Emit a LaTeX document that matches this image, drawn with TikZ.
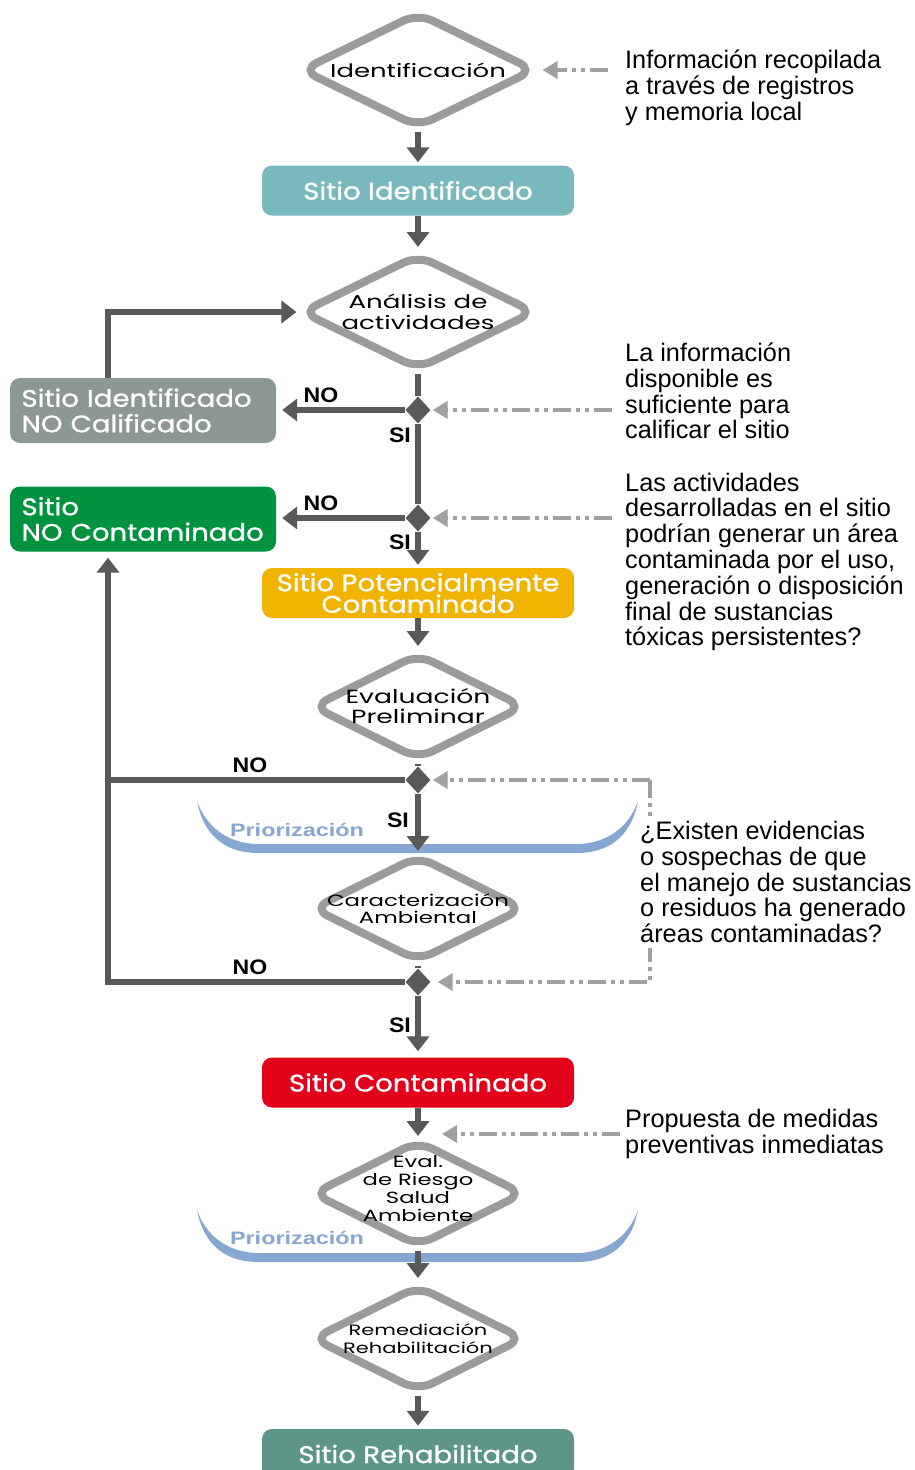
\documentclass[tikz,border=0pt]{standalone}
\usepackage{fontspec}
\setmainfont{Liberation Sans}
\newfontfamily\boxfont[FakeStretch=1.15, FakeBold=1]{Poppins}
\newfontfamily\diafont[FakeStretch=1.4]{Poppins}
\newfontfamily\widesans[FakeStretch=1.3]{Liberation Sans}
\newfontfamily\answerfont[FakeStretch=1.1]{Liberation Sans}
\definecolor{flowgray}{RGB}{88, 89, 91}
\definecolor{diagray}{RGB}{155, 155, 157}
\definecolor{hintgray}{RGB}{160, 160, 160}
\definecolor{siteteal}{RGB}{121, 184, 188}
\definecolor{sitegray}{RGB}{140, 152, 150}
\definecolor{sitegreen}{RGB}{0, 146, 63}
\definecolor{siteyellow}{RGB}{240, 180, 0}
\definecolor{sitered}{RGB}{226, 0, 26}
\definecolor{sitesage}{RGB}{94, 149, 137}
\definecolor{priorblue}{RGB}{133, 167, 209}
\usetikzlibrary{shapes, arrows.meta, positioning, calc}

\begin{document}
\begin{tikzpicture}[x=1pt, y=-1pt,
  sitebox/.style={rectangle, rounded corners=10pt, minimum width=312pt, minimum height=50pt, inner sep=0pt,
    text=white, align=center, font=\boxfont\fontsize{24}{25.5}\selectfont},
  sideBox/.style={sitebox, minimum width=266pt, minimum height=65pt, text width=243pt, align=left},
  decision/.style={diamond, draw=diagray, line width=8pt, fill=white, rounded corners=16pt,
    minimum width=235pt, minimum height=116pt, inner sep=0pt},
  smalldecision/.style={decision, minimum width=213pt, minimum height=107pt},
  diatext/.style 2 args={align=center, inner sep=0pt, font=\diafont\fontsize{#1}{#2}\selectfont},
  junction/.style={diamond, fill=flowgray, minimum width=25pt, minimum height=27pt, inner sep=0pt},
  flowline/.style={draw=flowgray, line width=6pt},
  flow/.style={flowline, -{Triangle[width=22pt, length=15pt]}},
  hint/.style={draw=hintgray, line width=4pt, dash pattern=on 18pt off 5pt on 4pt off 5pt on 4pt off 5pt,
    -{Triangle[width=17pt, length=15pt]}},
  note/.style={anchor=west, align=left, inner sep=5pt, font=\fontsize{25.3}{25.8}\selectfont},
  answer/.style={inner sep=0pt, font=\answerfont\bfseries\fontsize{21}{21}\selectfont},
  priolabel/.style={inner sep=0pt, text=priorblue, font=\widesans\bfseries\fontsize{18}{18}\selectfont}
]
\fill[white] (0,0) rectangle (915,1470);
\useasboundingbox (0,0) rectangle (915,1470);

\fill[priorblue] (197,801) .. controls (204,838) and (228,853) .. (258,853) -- (577,853)
  .. controls (607,853) and (631,838) .. (638,801) .. controls (628,830) and (603,844) .. (577,844)
  -- (258,844) .. controls (232,844) and (207,830) .. (197,801) -- cycle;
\fill[priorblue] (197,1210) .. controls (204,1247) and (228,1262) .. (258,1262) -- (577,1262)
  .. controls (607,1262) and (631,1247) .. (638,1210) .. controls (628,1239) and (603,1253) .. (577,1253)
  -- (258,1253) .. controls (232,1253) and (207,1239) .. (197,1210) -- cycle;
\node[priolabel] (prio1) at (297,830) {Priorización};
\node[priolabel] (prio2) at (297,1238) {Priorización};

\node[decision] (d1) at (418,70) {};
\node[diatext={18.5}{20}] (t1) at (d1) {Identificación};
\node[sitebox, fill=siteteal] (b1) at (418,190.5) {Sitio Identificado};
\node[decision] (d2) at (418,312) {};
\node[diatext={18.6}{21}] (t2) at (d2) {Análisis de\\actividades};
\node[junction] (j1) at (418,410) {};
\node[junction] (j2) at (418,518) {};
\node[sideBox, fill=sitegray] (nocal) at (143,410.5) {Sitio Identificado\\NO Calificado};
\node[sideBox, fill=sitegreen] (nocont) at (143,519) {Sitio\\NO Contaminado};
\node[sitebox, fill=siteyellow, font=\boxfont\fontsize{24}{21.5}\selectfont] (b3) at (418,593) {Sitio Potencialmente\\Contaminado};
\node[smalldecision] (d3) at (418,706.5) {};
\node[diatext={19}{20}] (t3) at (d3) {Evaluación\\Preliminar};
\node[junction] (j3) at (418,780) {};
\node[smalldecision] (d4) at (418,908.5) {};
\node[diatext={16.3}{17}] (t4) at (d4) {Caracterización\\Ambiental};
\node[junction] (j4) at (418,982) {};
\node[sitebox, fill=sitered] (b4) at (418,1082.5) {Sitio Contaminado};
\node[smalldecision] (d5) at (418,1193.5) {};
\node[diatext={16.2}{18}] (t5) at ([yshift=5pt]d5) {Eval.\\de Riesgo\\Salud\\Ambiente};
\node[smalldecision] (d6) at (418,1338.5) {};
\node[diatext={15}{18}] (t6) at (d6) {Remediación\\Rehabilitación};
\node[sitebox, fill=sitesage] (b6) at (418,1454) {Sitio Rehabilitado};

\draw[flow, shorten >=3pt] (d1) -- (b1);
\draw[flow, shorten >=3pt] (b1) -- (d2);
\draw[flowline] (d2) -- (j1);
\draw[flowline] (j1) -- (j2);
\draw[flow, shorten >=3pt] (j2) -- (b3);
\draw[flow, shorten >=6pt] (j1) -- (nocal.east |- j1);
\draw[flow, shorten >=6pt] (j2) -- (nocont.east |- j2);
\draw[flow] ([xshift=-35pt]nocal.north) |- (d2);
\draw[flow, shorten >=3pt] (b3) -- (d3);
\draw[flowline] (d3) -- (j3);
\draw[flow] (j3) -- (d4);
\draw[flowline] (d4) -- (j4);
\draw[flow, shorten >=6pt] (j4) -- (b4);
\draw[flow] (b4) -- (d5);
\draw[flow, shorten >=3pt] (d5) -- (d6);
\draw[flow, shorten >=3pt] (d6) -- (b6);
\coordinate (nobend) at (108,982);
\draw[flowline] (j3) -- (nobend |- j3);
\draw[flow, shorten >=6pt] (j4) -- (nobend) -- (nobend |- nocont.south);

\node[answer] (no1) at (321,395) {NO};
\node[answer] (si1) at (400,435) {SI};
\node[answer] (no2) at (321,503) {NO};
\node[answer] (si2) at (400,542) {SI};
\node[answer] (no3) at (250,765) {NO};
\node[answer] (si3) at (398,820) {SI};
\node[answer] (no4) at (250,967) {NO};
\node[answer] (si4) at (400,1025) {SI};

\node[note] (n1) at (620,88) {Información recopilada\\a través de registros\\y memoria local};
\node[note] (n2) at (620,391) {La información\\disponible es\\suficiente para\\calificar el sitio};
\node[note] (n3) at (620,562) {Las actividades\\desarrolladas en el sitio\\podrían generar un área\\contaminada por el uso,\\generación o disposición\\final de sustancias\\tóxicas persistentes?};
\node[note] (n5) at (620,1134) {Propuesta de medidas\\preventivas inmediatas};
\draw[hint, shorten >=3pt] ([xshift=-12pt]n1.west |- d1) -- (d1);
\draw[hint, shorten >=2pt] ([xshift=-8pt]n2.west |- j1) -- (j1);
\draw[hint, shorten >=2pt] ([xshift=-8pt]n3.west |- j2) -- (j2);
\coordinate (hintbend) at (650,780);
\draw[hint, shorten >=2pt] (hintbend) -- (j3);
\draw[hint, shorten >=7pt] (hintbend) |- (j4);
\coordinate (p5) at (418,1134);
\draw[hint, shorten >=24pt] (n5.west) -- (p5);
\node[note, fill=white] (n4) at (635,882) {¿Existen evidencias\\o sospechas de que\\el manejo de sustancias\\o residuos ha generado\\áreas contaminadas?};
\end{tikzpicture}
\end{document}
